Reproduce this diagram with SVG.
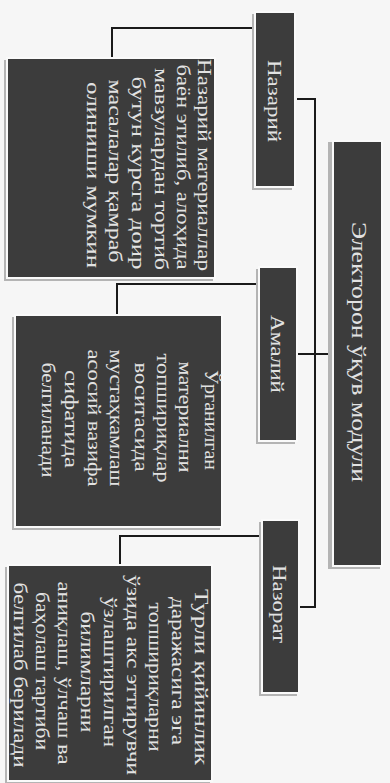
<svg xmlns="http://www.w3.org/2000/svg" width="390" height="783" viewBox="0 0 390 783">
<style>
.bg{fill:#f6f6f6}
.sh{fill:#b4b4b4}
.box{fill:#3c3c3c;stroke:#fafafa;stroke-width:2}
.t{font-family:"Liberation Serif","DejaVu Serif",serif;font-size:19px;fill:#e2e2e2;text-anchor:middle}
.lbl{font-size:19px}
.main{font-size:22px}
.con{fill:none;stroke:#1a1a1a;stroke-width:2}
</style>
<rect class="bg" x="0" y="0" width="390" height="783"/>
<g id="connectors">
<path class="con" d="M255,28 H112 V57"/>
<path class="con" d="M259,284 H117 V315"/>
<path class="con" d="M262,536 H120 V565"/>
<path class="con" d="M297,99 H315 V607 H300"/>
<path class="con" d="M297,354 H333"/>
</g>
<g id="main">
<rect class="sh" x="328" y="142" width="52" height="427"/>
<rect class="box" x="333" y="141" width="49" height="425"/>
<text class="t main" transform="translate(352,352) rotate(90)" textLength="260" lengthAdjust="spacingAndGlyphs">Электорон ўқув модули</text>
</g>
<g id="nazariy">
<rect class="sh" x="252" y="14" width="40" height="176"/>
<rect class="box" x="255" y="12" width="40" height="175"/>
<text class="t lbl" transform="translate(268,101) rotate(90)" textLength="82" lengthAdjust="spacingAndGlyphs">Назарий</text>
</g>
<g id="amaliy">
<rect class="sh" x="256" y="269" width="39" height="175"/>
<rect class="box" x="259" y="267" width="38" height="174"/>
<text class="t lbl" transform="translate(271,354) rotate(90)" textLength="78" lengthAdjust="spacingAndGlyphs">Амалий</text>
</g>
<g id="nazorat">
<rect class="sh" x="259" y="522" width="38" height="174"/>
<rect class="box" x="262" y="520" width="37" height="173"/>
<text class="t lbl" transform="translate(273,604) rotate(90)" textLength="78" lengthAdjust="spacingAndGlyphs">Назорат</text>
</g>
<g id="box-nazariy">
<rect class="sh" x="4" y="60" width="209" height="221"/>
<rect class="box" x="7" y="58" width="208" height="220"/>
<text class="t" transform="translate(198,165) rotate(90)" textLength="212" lengthAdjust="spacingAndGlyphs">Назарий материаллар</text>
<text class="t" transform="translate(177,167) rotate(90)" textLength="205" lengthAdjust="spacingAndGlyphs">баён этилиб, алоҳида</text>
<text class="t" transform="translate(155,169) rotate(90)" textLength="202" lengthAdjust="spacingAndGlyphs">мавзулардан тортиб</text>
<text class="t" transform="translate(132,173) rotate(90)" textLength="193" lengthAdjust="spacingAndGlyphs">бутун курсга доир</text>
<text class="t" transform="translate(109,171) rotate(90)" textLength="183" lengthAdjust="spacingAndGlyphs">масалалар қамраб</text>
<text class="t" transform="translate(87,175) rotate(90)" textLength="186" lengthAdjust="spacingAndGlyphs">олиниши мумкин</text>
</g>
<g id="box-amaliy">
<rect class="sh" x="12" y="317" width="208" height="213"/>
<rect class="box" x="15" y="315" width="207" height="212"/>
<text class="t" transform="translate(205,420) rotate(90)" textLength="100" lengthAdjust="spacingAndGlyphs">Ўрганилган</text>
<text class="t" transform="translate(179,417) rotate(90)" textLength="111" lengthAdjust="spacingAndGlyphs">материални</text>
<text class="t" transform="translate(157,418) rotate(90)" textLength="129" lengthAdjust="spacingAndGlyphs">топшириқлар</text>
<text class="t" transform="translate(135,417) rotate(90)" textLength="109" lengthAdjust="spacingAndGlyphs">воситасида</text>
<text class="t" transform="translate(110,418) rotate(90)" textLength="137" lengthAdjust="spacingAndGlyphs">мустаҳкамлаш</text>
<text class="t" transform="translate(88,418) rotate(90)" textLength="137" lengthAdjust="spacingAndGlyphs">асосий вазифа</text>
<text class="t" transform="translate(65,419) rotate(90)" textLength="98" lengthAdjust="spacingAndGlyphs">сифатида</text>
<text class="t" transform="translate(42,420) rotate(90)" textLength="115" lengthAdjust="spacingAndGlyphs">белгиланади</text>
</g>
<g id="box-nazorat">
<rect class="sh" x="5" y="567" width="205" height="216"/>
<rect class="box" x="8" y="565" width="204" height="216"/>
<text class="t" transform="translate(195,677) rotate(90)" textLength="176" lengthAdjust="spacingAndGlyphs">Турли қийинлик</text>
<text class="t" transform="translate(172,671) rotate(90)" textLength="148" lengthAdjust="spacingAndGlyphs">даражасига эга</text>
<text class="t" transform="translate(149,677) rotate(90)" textLength="149" lengthAdjust="spacingAndGlyphs">топшириқларни</text>
<text class="t" transform="translate(127,675) rotate(90)" textLength="200" lengthAdjust="spacingAndGlyphs">ўзида акс эттирувчи</text>
<text class="t" transform="translate(104,672) rotate(90)" textLength="150" lengthAdjust="spacingAndGlyphs">ўзлаштирилган</text>
<text class="t" transform="translate(81,672) rotate(90)" textLength="121" lengthAdjust="spacingAndGlyphs">билимларни</text>
<text class="t" transform="translate(58,673) rotate(90)" textLength="183" lengthAdjust="spacingAndGlyphs">аниқлаш, ўлчаш ва</text>
<text class="t" transform="translate(36,671) rotate(90)" textLength="158" lengthAdjust="spacingAndGlyphs">баҳолаш тартиби</text>
<text class="t" transform="translate(14,675) rotate(90)" textLength="185" lengthAdjust="spacingAndGlyphs">белгилаб берилади</text>
</g>
</svg>
